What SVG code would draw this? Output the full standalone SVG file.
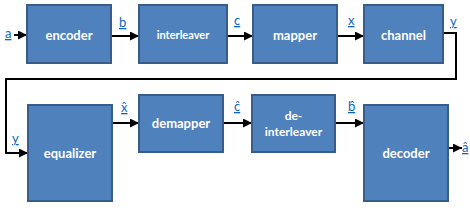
<svg xmlns="http://www.w3.org/2000/svg" width="470" height="220" viewBox="0 0 470 220">
<style>
.box{fill:#4f81bd;stroke:#385d8a;stroke-width:2}
.t{font-family:Lato,"Open Sans","Liberation Sans",sans-serif;font-weight:bold;fill:#fff;text-anchor:middle;dominant-baseline:central}
.lb{font-family:Lato,"Open Sans","Liberation Sans",sans-serif;fill:#0b66c3;font-size:13px;text-decoration:underline}
.c{fill:none;stroke:#000;stroke-width:2}
</style>
<defs>
<marker id="ah" viewBox="0 0 10 10" refX="10" refY="5" markerWidth="4.5" markerHeight="4.5" markerUnits="strokeWidth" orient="auto">
<path d="M0,0 L10,5 L0,10 z" fill="#000"/>
</marker>
</defs>
<g id="connectors">
<line class="c" x1="14" y1="35" x2="27" y2="35" marker-end="url(#ah)"/>
<line class="c" x1="111" y1="36" x2="139" y2="36" marker-end="url(#ah)"/>
<line class="c" x1="227" y1="36" x2="253" y2="36" marker-end="url(#ah)"/>
<line class="c" x1="337" y1="36" x2="364" y2="36" marker-end="url(#ah)"/>
<path class="c" d="M443,33 H456 V79 H6 V153 H28" marker-end="url(#ah)"/>
<line class="c" x1="112" y1="123" x2="139" y2="123" marker-end="url(#ah)"/>
<line class="c" x1="223" y1="123" x2="252" y2="123" marker-end="url(#ah)"/>
<line class="c" x1="335" y1="123" x2="364" y2="123" marker-end="url(#ah)"/>
<line class="c" x1="448" y1="148" x2="462" y2="148" marker-end="url(#ah)"/>
</g>
<g id="labels">
<text class="lb" x="5" y="38">a</text>
<text class="lb" x="119" y="27">b</text>
<text class="lb" x="234" y="25">c</text>
<text class="lb" x="348" y="25">x</text>
<text class="lb" x="450" y="26">y</text>
<text class="lb" x="12" y="143">y</text>
<text class="lb" x="121" y="112">x̂</text>
<text class="lb" x="234" y="111">ĉ</text>
<text class="lb" x="348" y="111">b̂</text>
<text class="lb" x="462" y="152">â</text>
</g>
<g id="encoder"><rect class="box" x="27" y="5" width="84" height="58"/><text class="t" x="69" y="35" font-size="13">encoder</text></g>
<g id="interleaver"><rect class="box" x="139" y="5" width="88" height="58"/><text class="t" x="183" y="34" font-size="11">interleaver</text></g>
<g id="mapper"><rect class="box" x="253" y="5" width="84" height="58"/><text class="t" x="295" y="35" font-size="13">mapper</text></g>
<g id="channel"><rect class="box" x="364" y="5" width="79" height="58"/><text class="t" x="403.5" y="35" font-size="13">channel</text></g>
<g id="equalizer"><rect class="box" x="28" y="105" width="84" height="96"/><text class="t" x="70" y="153" font-size="13">equalizer</text></g>
<g id="demapper"><rect class="box" x="139" y="95" width="84" height="57"/><text class="t" x="181" y="123" font-size="13">demapper</text></g>
<g id="deinterleaver"><rect class="box" x="252" y="95" width="83" height="57"/><text class="t" x="293.5" y="115" font-size="12">de-</text><text class="t" x="293.5" y="131" font-size="12">interleaver</text></g>
<g id="decoder"><rect class="box" x="364" y="105" width="84" height="96"/><text class="t" x="406" y="153" font-size="13">decoder</text></g>
</svg>
